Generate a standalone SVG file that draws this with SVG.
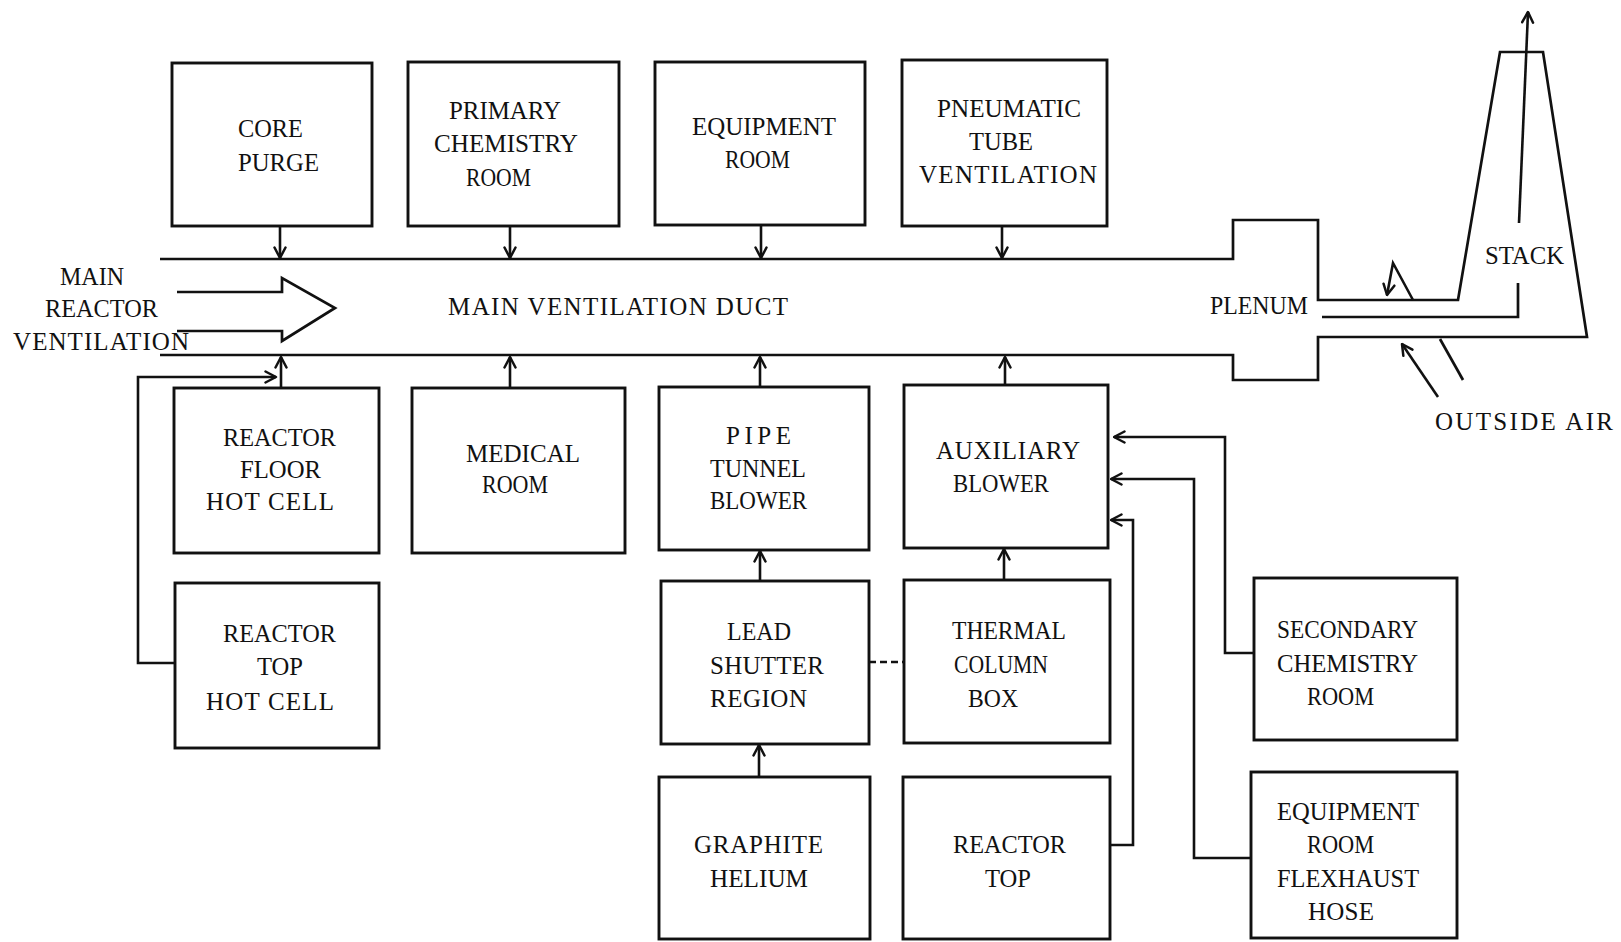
<svg xmlns="http://www.w3.org/2000/svg" width="1621" height="942" viewBox="0 0 1621 942">
<defs>
<style>
.box{fill:none;stroke:#111;stroke-width:2.9;stroke-linejoin:miter}
.ln{fill:none;stroke:#111;stroke-width:2.7;stroke-linejoin:miter}
.arr{fill:none;stroke:#111;stroke-width:2.6;marker-end:url(#ah)}
.dash{fill:none;stroke:#111;stroke-width:2.6;stroke-dasharray:7,4}
text{font-family:"Liberation Serif","Times New Roman",serif;font-size:25px;fill:#111}
</style>
<marker id="ah" viewBox="0 0 14 14" refX="12.5" refY="7" markerWidth="14" markerHeight="14" markerUnits="userSpaceOnUse" orient="auto">
<path d="M2,1.5 L12.5,7 L2,12.5" fill="none" stroke="#111" stroke-width="2.5" stroke-linecap="round" stroke-linejoin="round"/>
</marker>
</defs>
<rect width="1621" height="942" fill="#fff"/>

<g id="duct-system">
<path class="ln" d="M160,259 L1233,259 L1233,220 L1318,220 L1318,300 L1458,300 L1500,52 L1543,52 L1587,337 L1318,337 L1318,380 L1233,380 L1233,355 L160,355"/>
<path class="ln" d="M1322,317 L1518,317 L1518,283"/>
<path class="ln" d="M177,292 L282,292 L282,278 L335,308 L282,341 L282,331 L177,331"/>
<text x="448" y="315" textLength="340" lengthAdjust="spacing">MAIN VENTILATION DUCT</text>
<text x="1210" y="314" textLength="98" lengthAdjust="spacingAndGlyphs">PLENUM</text>
<text x="1485" y="264" textLength="79" lengthAdjust="spacingAndGlyphs">STACK</text>
<text x="1435" y="430" textLength="178" lengthAdjust="spacing">OUTSIDE AIR</text>
<text x="60" y="285" textLength="64" lengthAdjust="spacingAndGlyphs">MAIN</text>
<text x="45" y="317" textLength="113" lengthAdjust="spacingAndGlyphs">REACTOR</text>
<text x="13" y="350" textLength="176" lengthAdjust="spacing">VENTILATION</text>
</g>

<g id="core-purge">
<rect class="box" x="172" y="63" width="200" height="163"/>
<text x="238" y="137" textLength="65" lengthAdjust="spacingAndGlyphs">CORE</text>
<text x="238" y="171" textLength="81" lengthAdjust="spacingAndGlyphs">PURGE</text>
</g>
<g id="primary-chemistry-room">
<rect class="box" x="408" y="62" width="211" height="164"/>
<text x="449" y="119" textLength="112" lengthAdjust="spacingAndGlyphs">PRIMARY</text>
<text x="434" y="152" textLength="144" lengthAdjust="spacingAndGlyphs">CHEMISTRY</text>
<text x="466" y="186" textLength="65" lengthAdjust="spacingAndGlyphs">ROOM</text>
</g>
<g id="equipment-room">
<rect class="box" x="655" y="62" width="210" height="163"/>
<text x="692" y="135" textLength="144" lengthAdjust="spacingAndGlyphs">EQUIPMENT</text>
<text x="725" y="168" textLength="65" lengthAdjust="spacingAndGlyphs">ROOM</text>
</g>
<g id="pneumatic-tube-ventilation">
<rect class="box" x="902" y="60" width="205" height="166"/>
<text x="937" y="117" textLength="144" lengthAdjust="spacingAndGlyphs">PNEUMATIC</text>
<text x="969" y="150" textLength="64" lengthAdjust="spacingAndGlyphs">TUBE</text>
<text x="919" y="183" textLength="178" lengthAdjust="spacing">VENTILATION</text>
</g>

<g id="reactor-floor-hot-cell">
<rect class="box" x="174" y="388" width="205" height="165"/>
<text x="223" y="446" textLength="113" lengthAdjust="spacingAndGlyphs">REACTOR</text>
<text x="240" y="478" textLength="81" lengthAdjust="spacingAndGlyphs">FLOOR</text>
<text x="206" y="510" textLength="128" lengthAdjust="spacing">HOT CELL</text>
</g>
<g id="reactor-top-hot-cell">
<rect class="box" x="175" y="583" width="204" height="165"/>
<text x="223" y="642" textLength="113" lengthAdjust="spacingAndGlyphs">REACTOR</text>
<text x="257" y="675" textLength="46" lengthAdjust="spacingAndGlyphs">TOP</text>
<text x="206" y="710" textLength="128" lengthAdjust="spacing">HOT CELL</text>
</g>
<g id="medical-room">
<rect class="box" x="412" y="388" width="213" height="165"/>
<text x="466" y="462" textLength="114" lengthAdjust="spacingAndGlyphs">MEDICAL</text>
<text x="482" y="493" textLength="66" lengthAdjust="spacingAndGlyphs">ROOM</text>
</g>
<g id="pipe-tunnel-blower">
<rect class="box" x="659" y="387" width="210" height="163"/>
<text x="726" y="444" textLength="65" lengthAdjust="spacing">PIPE</text>
<text x="710" y="477" textLength="96" lengthAdjust="spacingAndGlyphs">TUNNEL</text>
<text x="710" y="509" textLength="97" lengthAdjust="spacingAndGlyphs">BLOWER</text>
</g>
<g id="auxiliary-blower">
<rect class="box" x="904" y="385" width="204" height="163"/>
<text x="936" y="459" textLength="144" lengthAdjust="spacing">AUXILIARY</text>
<text x="953" y="492" textLength="96" lengthAdjust="spacingAndGlyphs">BLOWER</text>
</g>
<g id="lead-shutter-region">
<rect class="box" x="661" y="581" width="208" height="163"/>
<text x="727" y="640" textLength="64" lengthAdjust="spacingAndGlyphs">LEAD</text>
<text x="710" y="674" textLength="114" lengthAdjust="spacing">SHUTTER</text>
<text x="710" y="707" textLength="97" lengthAdjust="spacing">REGION</text>
</g>
<g id="thermal-column-box">
<rect class="box" x="904" y="580" width="206" height="163"/>
<text x="952" y="639" textLength="114" lengthAdjust="spacingAndGlyphs">THERMAL</text>
<text x="954" y="673" textLength="94" lengthAdjust="spacingAndGlyphs">COLUMN</text>
<text x="968" y="707" textLength="50" lengthAdjust="spacingAndGlyphs">BOX</text>
</g>
<g id="graphite-helium">
<rect class="box" x="659" y="777" width="211" height="162"/>
<text x="694" y="853" textLength="129" lengthAdjust="spacing">GRAPHITE</text>
<text x="710" y="887" textLength="98" lengthAdjust="spacingAndGlyphs">HELIUM</text>
</g>
<g id="reactor-top">
<rect class="box" x="903" y="777" width="207" height="162"/>
<text x="953" y="853" textLength="113" lengthAdjust="spacingAndGlyphs">REACTOR</text>
<text x="985" y="887" textLength="46" lengthAdjust="spacingAndGlyphs">TOP</text>
</g>
<g id="secondary-chemistry-room">
<rect class="box" x="1254" y="578" width="203" height="162"/>
<text x="1277" y="638" textLength="141" lengthAdjust="spacingAndGlyphs">SECONDARY</text>
<text x="1277" y="672" textLength="141" lengthAdjust="spacingAndGlyphs">CHEMISTRY</text>
<text x="1307" y="705" textLength="67" lengthAdjust="spacingAndGlyphs">ROOM</text>
</g>
<g id="equipment-room-flexhaust-hose">
<rect class="box" x="1251" y="772" width="206" height="166"/>
<text x="1277" y="820" textLength="142" lengthAdjust="spacingAndGlyphs">EQUIPMENT</text>
<text x="1307" y="853" textLength="67" lengthAdjust="spacingAndGlyphs">ROOM</text>
<text x="1277" y="887" textLength="142" lengthAdjust="spacingAndGlyphs">FLEXHAUST</text>
<text x="1308" y="920" textLength="66" lengthAdjust="spacing">HOSE</text>
</g>

<g id="connectors">
<line class="arr" x1="280" y1="226" x2="280" y2="258"/>
<line class="arr" x1="510" y1="226" x2="510" y2="258"/>
<line class="arr" x1="761" y1="225" x2="761" y2="258"/>
<line class="arr" x1="1002" y1="226" x2="1002" y2="258"/>
<line class="arr" x1="281" y1="388" x2="281" y2="357"/>
<line class="arr" x1="510" y1="388" x2="510" y2="357"/>
<line class="arr" x1="760" y1="387" x2="760" y2="357"/>
<line class="arr" x1="1005" y1="385" x2="1005" y2="357"/>
<polyline class="arr" points="175,663 138,663 138,377 276,377"/>
<line class="arr" x1="760" y1="581" x2="760" y2="551"/>
<line class="arr" x1="759" y1="777" x2="759" y2="745"/>
<line class="arr" x1="1004" y1="580" x2="1004" y2="549"/>
<line class="dash" x1="869" y1="662" x2="904" y2="662"/>
<polyline class="arr" points="1254,653 1225,653 1225,437 1114,437"/>
<polyline class="arr" points="1251,858 1194,858 1194,479 1111,479"/>
<polyline class="arr" points="1110,845 1133,845 1133,520 1111,520"/>
<line class="arr" x1="1519" y1="223" x2="1528" y2="12"/>
<polyline class="arr" points="1413,300 1393,263 1387,295"/>
<line class="arr" x1="1438" y1="397" x2="1402" y2="344"/>
<line class="ln" x1="1440" y1="339" x2="1463" y2="380"/>
</g>
</svg>
